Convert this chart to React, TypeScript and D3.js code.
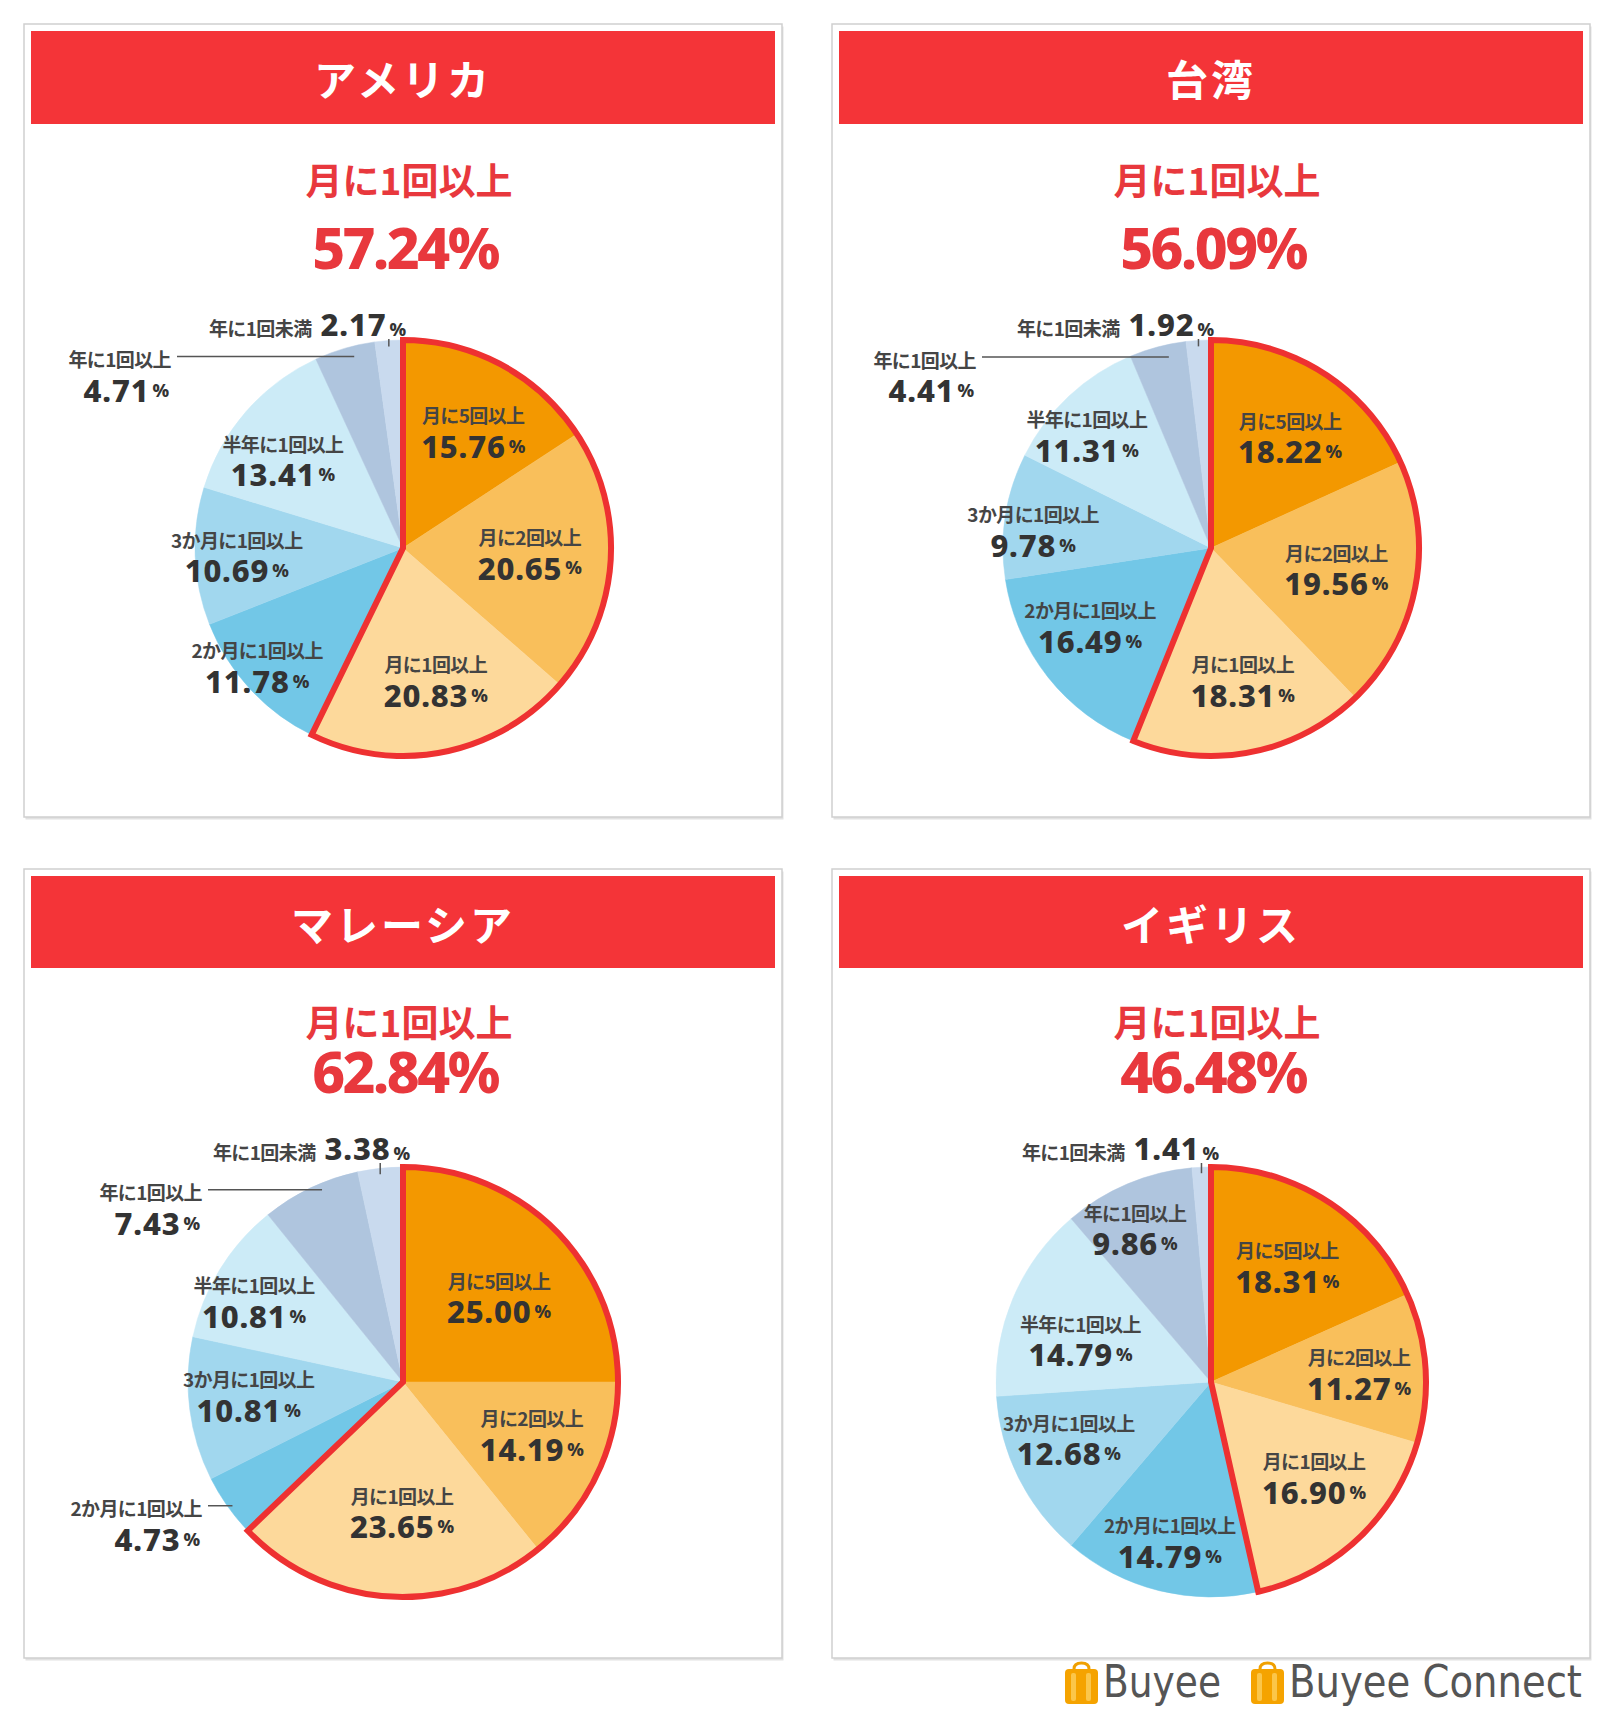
import React from "react";
import * as d3 from "d3";

// ---------- data ----------
const categories = [
  "月に5回以上",
  "月に2回以上",
  "月に1回以上",
  "2か月に1回以上",
  "3か月に1回以上",
  "半年に1回以上",
  "年に1回以上",
  "年に1回未満",
];
const countries = ["アメリカ", "台湾", "マレーシア", "イギリス"];
const usaValues = [15.76, 20.65, 20.83, 11.78, 10.69, 13.41, 4.71, 2.17];
const taiwanValues = [18.22, 19.56, 18.31, 16.49, 9.78, 11.31, 4.41, 1.92];
const malaysiaValues = [25.0, 14.19, 23.65, 4.73, 10.81, 10.81, 7.43, 3.38];
const ukValues = [18.31, 11.27, 16.9, 14.79, 12.68, 14.79, 9.86, 1.41];
const seriesValues = [usaValues, taiwanValues, malaysiaValues, ukValues];
const highlightLabel = "月に1回以上";
const highlightCount = 3; // first three categories = "月に1回以上"
const logoTexts = ["Buyee", "Buyee Connect"];

// ---------- style / layout ----------
const W = 1600;
const H = 1713;
const sliceColors = [
  "#F39800",
  "#F9BF5B",
  "#FDD99B",
  "#72C7E7",
  "#A1D7EE",
  "#CCEBF7",
  "#AFC5DE",
  "#C9DAEE",
];
const RED = "#F43438";
const SUB_RED = "#E8383D";
const OUTLINE_RED = "#EE3131";
const JP = "'Noto Sans CJK JP', 'Noto Sans', sans-serif";
const NUM = "'Noto Sans', 'Noto Sans CJK JP', sans-serif";

type Outside = { idx: number; kind: "left" | "top"; off: number; rf?: number; da?: number };
type Layout = {
  x: number;
  y: number;
  w: number;
  h: number;
  headerH: number;
  subDy: number;
  numDy: number;
  pieDy: number;
  r: number;
  topBase: number;
  inside: ([number, number] | null)[];
  outside: Outside[];
};

const layouts: Layout[] = [
  {
    x: 24, y: 24, w: 758, h: 793, headerH: 93, subDy: 155, numDy: 223, pieDy: 524, r: 208, topBase: -4,
    inside: [[0.66, 2.4], [0.61, -2.1], [0.65, -2.6], [0.9, 3.9], [0.8, 0], [0.72, -4.4], null, null],
    outside: [
      { idx: 6, kind: "left", off: -226, rf: 0.95, da: 2 },
      { idx: 7, kind: "top", off: 3 },
    ],
  },
  {
    x: 832, y: 24, w: 758, h: 793, headerH: 93, subDy: 155, numDy: 223, pieDy: 524, r: 208, topBase: -4,
    inside: [[0.66, 2.4], [0.61, -1.8], [0.65, -2.6], [0.69, 5.8], [0.86, -2.9], [0.81, -4.3], null, null],
    outside: [
      { idx: 6, kind: "left", off: -229, rf: 0.94, da: 2.4 },
      { idx: 7, kind: "top", off: 3 },
    ],
  },
  {
    x: 24, y: 869, w: 758, h: 789, headerH: 92, subDy: 152, numDy: 202, pieDy: 513, r: 215, topBase: -7,
    inside: [[0.6, 3.1], [0.645, -3.8], [0.6, -3.2], null, [0.72, 2.8], [0.79, -2.9], null, null],
    outside: [
      { idx: 3, kind: "left", off: -195, rf: 0.98, da: -0.7 },
      { idx: 6, kind: "left", off: -195, rf: 0.97, da: 2.7 },
      { idx: 7, kind: "top", off: 7 },
    ],
  },
  {
    x: 832, y: 869, w: 758, h: 789, headerH: 92, subDy: 152, numDy: 202, pieDy: 513, r: 215, topBase: -7,
    inside: [[0.65, 0.2], [0.69, 0], [0.65, -4.4], [0.76, 0.7], [0.71, 5.2], [0.64, -4.4], [0.8, -3.4], null],
    outside: [{ idx: 7, kind: "top", off: 8 }],
  },
];

const fmt = (v: number) => v.toFixed(2);

function ValueText({ x, y, v, anchor }: { x: number; y: number; v: number; anchor: string }) {
  return (
    <text x={x} y={y} textAnchor={anchor} dominantBaseline="central" fill="#333" fontFamily={NUM} fontWeight={800}>
      <tspan fontSize={31} letterSpacing={0.8}>{fmt(v)}</tspan>
      <tspan fontSize={18} dx={3}>%</tspan>
    </text>
  );
}

function CatText({ x, y, i, anchor }: { x: number; y: number; i: number; anchor: string }) {
  return (
    <text
      x={x}
      y={y}
      textAnchor={anchor}
      dominantBaseline="central"
      fill="#454545"
      fontFamily={JP}
      fontWeight={700}
      fontSize={19}
      letterSpacing={-0.6}
    >
      {categories[i]}
    </text>
  );
}

function Panel({ idx }: { idx: number }) {
  const L = layouts[idx];
  const values = seriesValues[idx];
  const cx = L.x + L.w / 2;
  const cy = L.y + L.pieDy;
  const r = L.r;
  const total = d3.sum(values.slice(0, highlightCount));

  const pie = d3
    .pie<number>()
    .sort(null)
    .value((d) => d)
    .startAngle(0)
    .endAngle(2 * Math.PI);
  const arcs = pie(values);
  const arc = d3.arc<d3.PieArcDatum<number>>().innerRadius(0).outerRadius(r);
  const outline = d3.arc<any>()({
    innerRadius: 0,
    outerRadius: r,
    startAngle: 0,
    endAngle: arcs[highlightCount - 1].endAngle,
  });

  return (
    <g>
      {/* panel frame */}
      <rect x={L.x + 1.5} y={L.y + 2.5} width={L.w} height={L.h} fill="#e2e2e2" />
      <rect x={L.x} y={L.y} width={L.w} height={L.h} fill="#fff" stroke="#cfcfcf" strokeWidth={1.5} />
      <rect x={L.x + 7} y={L.y + 7} width={L.w - 14} height={L.headerH} fill={RED} />
      <text
        x={cx}
        y={L.y + 7 + L.headerH / 2}
        textAnchor="middle"
        dominantBaseline="central"
        fill="#fff"
        fontFamily={JP}
        fontWeight={700}
        fontSize={42}
        letterSpacing={3}
      >
        {countries[idx]}
      </text>
      <text
        x={cx + 6}
        y={L.y + L.subDy}
        textAnchor="middle"
        dominantBaseline="central"
        fill={SUB_RED}
        fontFamily={JP}
        fontWeight={700}
        fontSize={37}
      >
        {highlightLabel}
      </text>
      <text
        x={cx + 2}
        y={L.y + L.numDy}
        textAnchor="middle"
        dominantBaseline="central"
        fill={SUB_RED}
        fontFamily={NUM}
        fontWeight={800}
        fontSize={57}
        letterSpacing={-2.5}
      >
        {fmt(total)}%
      </text>

      <g transform={`translate(${cx},${cy})`}>
        {arcs.map((a, i) => (
          <path key={i} d={arc(a) as string} fill={sliceColors[i]} stroke={sliceColors[i]} strokeWidth={0.5} />
        ))}
        <path d={outline as string} fill="none" stroke={OUTLINE_RED} strokeWidth={6} strokeLinejoin="miter" />

        {arcs.map((a, i) => {
          const spec = L.inside[i];
          if (!spec) return null;
          const ang = (a.startAngle + a.endAngle) / 2 + (spec[1] * Math.PI) / 180;
          const px = Math.sin(ang) * spec[0] * r;
          const py = -Math.cos(ang) * spec[0] * r;
          return (
            <g key={"l" + i}>
              <CatText x={px} y={py - 15.5} i={i} anchor="middle" />
              <ValueText x={px} y={py + 15.5} v={values[i]} anchor="middle" />
            </g>
          );
        })}

        {L.outside.map((o) => {
          const a = arcs[o.idx];
          if (o.kind === "left") {
            const ang = (a.startAngle + a.endAngle) / 2 + ((o.da || 0) * Math.PI) / 180;
            const rr = (o.rf || 0.95) * r;
            const ex = Math.sin(ang) * rr;
            const ey = -Math.cos(ang) * rr;
            return (
              <g key={"o" + o.idx}>
                <line x1={o.off} y1={ey} x2={ex} y2={ey} stroke="#555" strokeWidth={1.5} />
                <CatText x={o.off - 6} y={ey + 2} i={o.idx} anchor="end" />
                <ValueText x={o.off - 8} y={ey + 33} v={values[o.idx]} anchor="end" />
              </g>
            );
          }
          const ang = (a.startAngle + a.endAngle) / 2;
          const tx = Math.sin(ang) * r;
          const base = -r + L.topBase;
          return (
            <g key={"o" + o.idx}>
              <line x1={tx} y1={-Math.cos(ang) * (r - 6)} x2={tx} y2={base + 3} stroke="#555" strokeWidth={1.5} />
              <text x={o.off} y={base} textAnchor="end" fill="#333" fontWeight={800}>
                <tspan fontFamily={JP} fontSize={19} fontWeight={700} fill="#454545" letterSpacing={-0.6}>
                  {categories[o.idx]}
                </tspan>
                <tspan fontFamily={NUM} fontSize={31} dx={9} letterSpacing={0.8}>
                  {fmt(values[o.idx])}
                </tspan>
                <tspan fontFamily={NUM} fontSize={18} dx={3}>
                  %
                </tspan>
              </text>
            </g>
          );
        })}
      </g>
    </g>
  );
}

function BagIcon({ x, y }: { x: number; y: number }) {
  return (
    <g transform={`translate(${x},${y})`}>
      <path d="M9,5 Q9,-1 16.5,-1 Q24,-1 24,5" fill="none" stroke="#F0A000" strokeWidth={3} />
      <rect x={0} y={5} width={33} height={35} rx={4} fill="#F5A300" />
      <rect x={6} y={9} width={5} height={28} rx={2} fill="#FBC64A" />
      <rect x={21} y={9} width={5} height={28} rx={2} fill="#FBC64A" />
    </g>
  );
}

export default function App() {
  return (
    <div style={{ position: "absolute", left: 0, top: 0 }}>
      <svg width={W} height={H} viewBox={`0 0 ${W} ${H}`} style={{ display: "block", background: "#fff" }}>
        <rect x={0} y={0} width={W} height={H} fill="#fff" />
        {layouts.map((_, i) => (
          <Panel key={i} idx={i} />
        ))}
        <BagIcon x={1065} y={1664} />
        <text x={1103} y={1697} fontFamily="'DejaVu Sans', sans-serif" fontSize={45} fill="#555" textLength={118} lengthAdjust="spacingAndGlyphs">
          {logoTexts[0]}
        </text>
        <BagIcon x={1251} y={1664} />
        <text x={1289} y={1697} fontFamily="'DejaVu Sans', sans-serif" fontSize={45} fill="#555" textLength={293} lengthAdjust="spacingAndGlyphs">
          {logoTexts[1]}
        </text>
      </svg>
    </div>
  );
}
